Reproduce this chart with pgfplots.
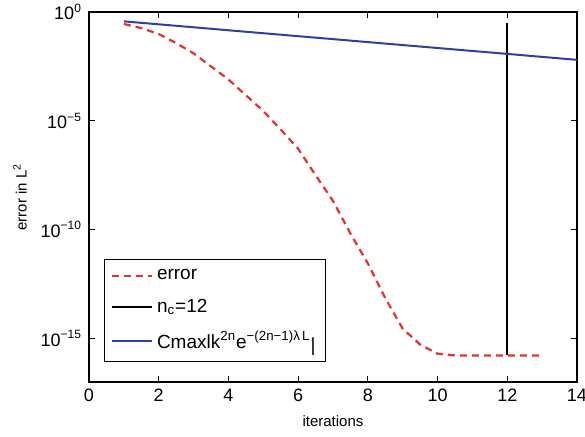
\documentclass[border=0pt]{standalone}
\usepackage{fontspec}
\setmainfont{Liberation Sans}
\usepackage{pgfplots}
\pgfplotsset{compat=1.18}
\definecolor{errred}{HTML}{E8302A}
\definecolor{boundblue}{HTML}{2E3F9F}

\begin{document}
\begin{tikzpicture}
\useasboundingbox (-44.5pt,-27pt) rectangle (248pt,191pt);
\begin{axis}[
  at={(0,0)}, anchor=south west, scale only axis,
  width=244pt, height=185pt,
  xmin=0, xmax=14,
  ymode=log, ymin=1e-17, ymax=1,
  xtick={0,2,...,14},
  ytick={1e-15,1e-10,1e-5,1},
  yticklabels={10\textsuperscript{−15},10\textsuperscript{−10},10\textsuperscript{−5},10\textsuperscript{0}},
  yminorticks=false,
  tick align=inside, tick pos=both,
  major tick length=3pt,
  axis line style={line width=0.7pt},
  tick style={line width=0.5pt, black},
  tick label style={font=\fontsize{9}{10}\selectfont},
  /pgf/number format/assume math mode=true,
  xlabel={iterations}, ylabel={error in L\textsuperscript{2}},
  label style={font=\fontsize{7.5}{9}\selectfont},
  legend style={at={(0.031,0.054)}, anchor=south west, draw=black,
    line width=0.5pt, font=\fontsize{9.5}{11}\selectfont, row sep=4pt,
    inner xsep=3pt, inner ysep=3pt},
  legend cell align=left,
  legend image code/.code={\draw[#1] (0pt,0pt) -- (20pt,0pt);},
]
\addplot[errred, line width=1.1pt, dash pattern=on 3.5pt off 2.5pt] coordinates {
(1,0.282)(1.5,0.182)(2,0.0977)(2.5,0.0372)(3,0.0126)(3.5,3.16e-3)(4,7.94e-4)
(4.5,1.51e-4)(5,2.82e-5)(5.5,3.98e-6)(6,5.25e-7)(6.5,3.16e-8)(7,2.09e-9)
(7.5,6.61e-11)(8,2.82e-12)(8.5,7.08e-14)(9,2.82e-15)(9.5,5.25e-16)(10,2.0e-16)
(10.5,1.66e-16)(11,1.66e-16)(12,1.66e-16)(13,1.66e-16)};
\addlegendentry{error}
\addplot[black, line width=1.2pt] coordinates {(12,1.66e-16)(12,0.316)};
\addlegendentry{n\textsubscript{c}=12}
\addplot[boundblue, line width=1pt] coordinates {
(1,0.372)(2,0.272)(3,0.199)(4,0.145)(5,0.106)(6,7.76e-2)(7,5.68e-2)
(8,4.15e-2)(9,3.03e-2)(10,2.22e-2)(11,1.62e-2)(12,1.19e-2)(13,8.67e-3)(14,6.34e-3)};
\addlegendentry{Cmaxlk\textsuperscript{2n}e\textsuperscript{−(2n−1)λ\,L}\raisebox{-1.5pt}{|}}
\end{axis}
\end{tikzpicture}
\end{document}
